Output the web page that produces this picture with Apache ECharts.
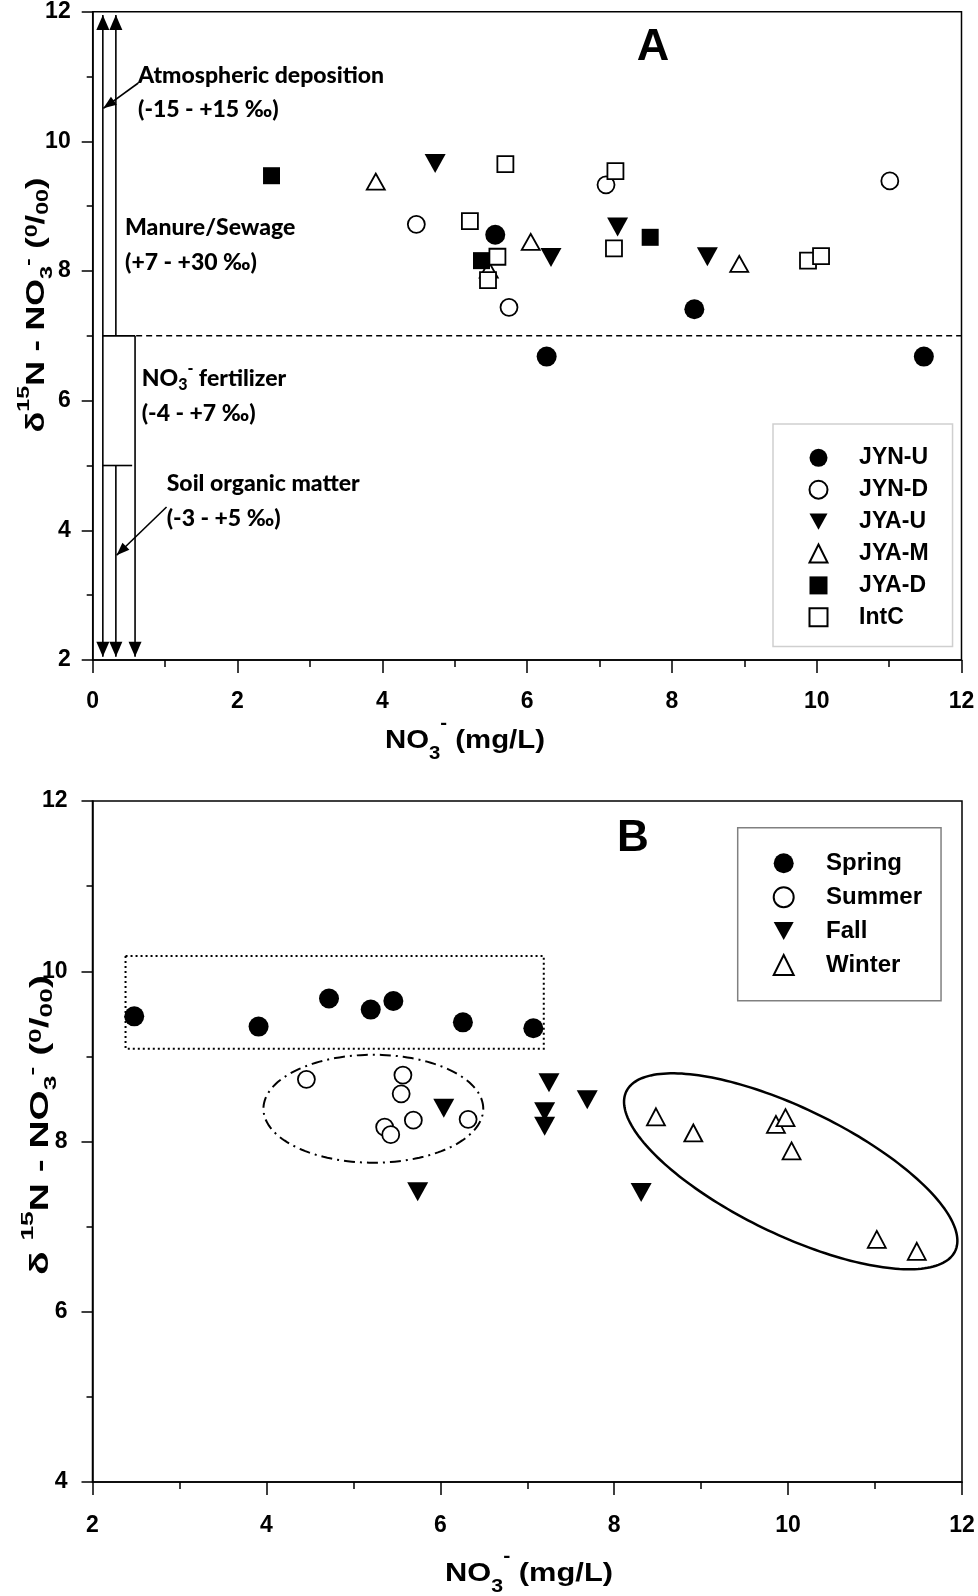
<!DOCTYPE html>
<html><head><meta charset="utf-8">
<script src="https://cdn.jsdelivr.net/npm/echarts@6.0.0/dist/echarts.min.js"></script>
<style>html,body{margin:0;padding:0;background:#fff}#c{width:978px;height:1596px}</style>
</head><body><div id="c"></div>
<script>
// ===================== DATA =====================
// Panel A: sites
const siteNames = ['JYN-U', 'JYN-D', 'JYA-U', 'JYA-M', 'JYA-D', 'IntC'];
const jynU = [[5.56, 8.56], [8.31, 7.41], [6.27, 6.68], [11.48, 6.68]];
const jynD = [[4.47, 8.72], [7.09, 9.33], [11.01, 9.39], [5.75, 7.44]];
const jyaU = [[4.73, 9.66], [6.33, 8.21], [7.25, 8.68], [8.49, 8.22]];
const jyaM = [[3.91, 9.38], [6.05, 8.45], [8.93, 8.11], [5.47, 8.02]];
const jyaD = [[2.47, 9.47], [5.37, 8.16], [7.70, 8.52]];
const intC = [[5.21, 8.77], [5.46, 7.86], [5.59, 8.22], [5.70, 9.65], [7.22, 9.54], [7.20, 8.35], [9.88, 8.16], [10.06, 8.23]];

// Panel B: seasons
const seasonNames = ['Spring', 'Summer', 'Fall', 'Winter'];
const spring = [[2.48, 9.47], [3.91, 9.35], [4.72, 9.68], [5.20, 9.55], [5.46, 9.65], [6.26, 9.40], [7.07, 9.33]];
const summer = [[4.46, 8.73], [5.57, 8.78], [5.55, 8.56], [5.69, 8.25], [5.36, 8.17], [5.43, 8.08], [6.32, 8.26]];
const fall   = [[6.04, 8.39], [5.74, 7.41], [7.25, 8.69], [7.20, 8.35], [7.20, 8.18], [7.69, 8.49], [8.31, 7.40]];
const winter = [[8.48, 8.29], [8.91, 8.10], [9.86, 8.20], [9.97, 8.28], [10.04, 7.89], [11.02, 6.85], [11.48, 6.71]];

// Tick labels
const xTicksA = [0, 2, 4, 6, 8, 10, 12];
const yTicksA = [2, 4, 6, 8, 10, 12];
const xTicksB = [2, 4, 6, 8, 10, 12];
const yTicksB = [4, 6, 8, 10, 12];

// Source ranges annotation (panel A), in data units
const sourceNames = ['Atmospheric deposition', 'Manure/Sewage', 'fertilizer', 'Soil organic matter'];
const sourceRanges = ['(-15 - +15 \u2030)', '(+7 - +30 \u2030)', '(-4 - +7 \u2030)', '(-3 - +5 \u2030)'];
// [x, yStart, yEnd, arrowAtStart, arrowAtEnd]
const sourceBars = [[0.14, 2.05, 11.95, 1, 1], [0.32, 7, 11.95, 0, 1], [0.585, 7, 2.05, 0, 1], [0.32, 5, 2.05, 0, 1]];
const sourceCaps = [[0.14, 0.585, 7], [0.14, 0.545, 5]];
const pointerArrows = [[[0.63, 10.90], [0.147, 10.51]], [[1.02, 4.36], [0.33, 3.615]]];
const thresholdLine = [[0.6, 7], [12, 7]];

// Panel B grouping shapes, in data units
const springBox = [[2.38, 9.09], [7.19, 10.18]];
const summerEllipse = { center: [5.23, 8.385], major: [6.494, 8.385], minor: [5.23, 9.019] };
const winterEllipse = { center: [10.03, 7.65], major: [11.92, 6.71], minor: [9.71, 6.986] };

// ===================== STYLE / LAYOUT =====================
const FN = '"Liberation Sans", Arial, Helvetica, sans-serif';
const FL = 'Lato, "Open Sans", "Noto Sans", sans-serif';
const DOWN_TRI = 'path://M0,0L20,0L10,18Z';

const mctx = document.createElement('canvas').getContext('2d');
function richWidth(str, rich) {
  let w = 0; const re = /\{(\w+)\|([^}]*)\}/g; let m;
  while ((m = re.exec(str))) { mctx.font = rich[m[1]].font; w += mctx.measureText(m[2]).width; }
  return w;
}

function seg(p1, p2, extra) {
  return { type: 'line', shape: { x1: p1[0], y1: p1[1], x2: p2[0], y2: p2[1] },
    style: Object.assign({ stroke: '#000', fill: null, lineWidth: 1.6 }, extra || {}) };
}
function head(tip, from, w, L) {
  const dx = tip[0] - from[0], dy = tip[1] - from[1];
  const len = Math.hypot(dx, dy), ux = dx / len, uy = dy / len;
  const bx = tip[0] - ux * L, by = tip[1] - uy * L, nx = -uy, ny = ux;
  return { type: 'polygon', shape: { points: [tip, [bx + nx * w / 2, by + ny * w / 2], [bx - nx * w / 2, by - ny * w / 2]] },
    style: { fill: '#000', stroke: null } };
}
function ellipsePts(api, e, n) {
  const c = api.coord(e.center), p = api.coord(e.major), q = api.coord(e.minor), pts = [];
  for (let i = 0; i < n; i++) {
    const t = 2 * Math.PI * i / n, ct = Math.cos(t), st = Math.sin(t);
    pts.push([c[0] + ct * (p[0] - c[0]) + st * (q[0] - c[0]), c[1] + ct * (p[1] - c[1]) + st * (q[1] - c[1])]);
  }
  return pts;
}

function renderSourcesA(params, api) {
  const ch = [];
  sourceBars.forEach(b => {
    const p1 = api.coord([b[0], b[1]]), p2 = api.coord([b[0], b[2]]);
    ch.push(seg(p1, p2));
    if (b[3]) ch.push(head(p1, p2, 13, 15));
    if (b[4]) ch.push(head(p2, p1, 13, 15));
  });
  sourceCaps.forEach(c => ch.push(seg(api.coord([c[0], c[2]]), api.coord([c[1], c[2]]))));
  pointerArrows.forEach(a => {
    const t = api.coord(a[0]), h = api.coord(a[1]);
    ch.push(seg(t, h)); ch.push(head(h, t, 10, 13));
  });
  ch.push(seg(api.coord(thresholdLine[0]), api.coord(thresholdLine[1]), { lineWidth: 1.5, lineDash: [6, 4] }));
  return { type: 'group', children: ch };
}
function renderGroupsB(params, api) {
  const a = api.coord(springBox[0]), b = api.coord(springBox[1]);
  return { type: 'group', children: [
    { type: 'rect', shape: { x: Math.min(a[0], b[0]), y: Math.min(a[1], b[1]), width: Math.abs(b[0] - a[0]), height: Math.abs(b[1] - a[1]) },
      style: { fill: null, stroke: '#000', lineWidth: 2, lineDash: [2, 3] } },
    { type: 'polygon', shape: { points: ellipsePts(api, summerEllipse, 160) },
      style: { fill: null, stroke: '#000', lineWidth: 2, lineDash: [11, 5, 2, 5] } },
    { type: 'polygon', shape: { points: ellipsePts(api, winterEllipse, 200) },
      style: { fill: null, stroke: '#000', lineWidth: 2.5 } }
  ] };
}

function scatter(name, data, symbol, size, filled, gi) {
  return { name, type: 'scatter', xAxisIndex: gi, yAxisIndex: gi, data, symbol, symbolSize: size, z: 2,
    itemStyle: filled ? { color: '#000', borderWidth: 0, opacity: 1 } : { color: '#fff', borderColor: '#000', borderWidth: 1.8, opacity: 1 },
    emphasis: { disabled: true } };
}

function xAxis(gi, ticks, margin) {
  return { gridIndex: gi, type: 'value', min: ticks[0], max: ticks[ticks.length - 1], interval: ticks[1] - ticks[0],
    axisLine: { show: true, onZero: false, lineStyle: { color: '#000', width: 1.5 } },
    axisTick: { show: true, inside: false, length: 13, lineStyle: { color: '#000', width: 1.5 } },
    minorTick: { show: true, splitNumber: 2, length: 7, lineStyle: { color: '#000', width: 1.5 } },
    splitLine: { show: false }, minorSplitLine: { show: false },
    axisLabel: { margin, fontFamily: FN, fontWeight: 'bold', fontSize: 23, color: '#000', showMinLabel: true, showMaxLabel: true, hideOverlap: false } };
}
function yAxis(gi, ticks, margin) {
  return { gridIndex: gi, type: 'value', min: ticks[0], max: ticks[ticks.length - 1], interval: ticks[1] - ticks[0],
    axisLine: { show: true, onZero: false, lineStyle: { color: '#000', width: 1.5 } },
    axisTick: { show: true, inside: false, length: 11, lineStyle: { color: '#000', width: 1.5 } },
    minorTick: { show: true, splitNumber: 2, length: 6, lineStyle: { color: '#000', width: 1.5 } },
    splitLine: { show: false }, minorSplitLine: { show: false },
    axisLabel: { margin, fontFamily: FN, fontWeight: 'bold', fontSize: 23, color: '#000', showMinLabel: true, showMaxLabel: true, hideOverlap: false } };
}

// rich-text tokens: shift up (sup) / down (sub) via padding around a middle-aligned token
function up(font, px) { return { font, fill: '#000', padding: [0, 0, 2 * px, 0] }; }
function dn(font, px) { return { font, fill: '#000', padding: [2 * px, 0, 0, 0] }; }

const richX = {
  m: { font: 'bold 26px ' + FN, fill: '#000' },
  sb: dn('bold 18px ' + FN, 13),
  sp: up('bold 18px ' + FN, 17)
};
const xTitle = '{m|NO}{sb|3}{sp|-}{m| (mg/L)}';
const richY = {
  m: { font: 'bold 25px ' + FN, fill: '#000' },
  sp: up('bold 17px ' + FN, 13),
  sb: dn('bold 17px ' + FN, 10),
  sp2: up('bold 17px ' + FN, 9),
  s0: up('bold 17px ' + FN, 5),
  b0: dn('bold 17px ' + FN, 6)
};
const yTitleA = '{m|\u03b4}{sp|15}{m|N - NO}{sb|3}{sp2|-}{m| (}{s0|0}{m|/}{b0|00}{m|)}';
const yTitleB = '{m|\u03b4 }{sp|15}{m|N - NO}{sb|3}{sp2|-}{m| (}{s0|0}{m|/}{b0|00}{m|)}';

function titleText(str, rich, x, y, targetW, rot) {
  const w = richWidth(str, rich);
  return { type: 'text', x, y, rotation: rot || 0, scaleX: targetW / w, z: 10,
    style: { text: str, rich, align: 'center', verticalAlign: 'middle', textAlign: 'center', textVerticalAlign: 'middle', fill: '#000' } };
}
const ANN_FONT = '900 23px ' + FL;
function annText(str, x, y) {
  return { type: 'text', x, y, z: 10,
    style: { text: str, font: ANN_FONT, fill: '#000', align: 'left', verticalAlign: 'middle', textAlign: 'left', textVerticalAlign: 'middle' } };
}
const richAnn = {
  t: { font: ANN_FONT, fill: '#000' },
  sb: dn('900 16px ' + FL, 6),
  sp: up('900 16px ' + FL, 10)
};

const graphics = [
  { type: 'text', x: 653, y: 48, z: 10, style: { text: 'A', font: 'bold 45px ' + FN, fill: '#000', align: 'center', verticalAlign: 'middle', textAlign: 'center', textVerticalAlign: 'middle' } },
  { type: 'text', x: 633, y: 839, z: 10, style: { text: 'B', font: 'bold 44px ' + FN, fill: '#000', align: 'center', verticalAlign: 'middle', textAlign: 'center', textVerticalAlign: 'middle' } },
  titleText(xTitle, richX, 465, 741, 160, 0),
  titleText(xTitle, richX, 529, 1574, 168, 0),
  titleText(yTitleA, richY, 37, 305, 255, Math.PI / 2),
  titleText(yTitleB, richY, 41, 1125, 300, Math.PI / 2),
  annText(sourceNames[0], 138, 76),
  annText(sourceRanges[0], 138, 110),
  annText(sourceNames[1], 125, 228),
  annText(sourceRanges[1], 125, 263),
  { type: 'text', x: 141.7, y: 379, z: 10, style: { text: '{t|NO}{sb|3}{sp|-}{t| ' + sourceNames[2] + '}', rich: richAnn, align: 'left', verticalAlign: 'middle', textAlign: 'left', textVerticalAlign: 'middle' } },
  annText(sourceRanges[2], 141.7, 414),
  annText(sourceNames[3], 166.7, 484),
  annText(sourceRanges[3], 166.7, 519)
];

const chart = echarts.init(document.getElementById('c'), null, { renderer: 'canvas' });
chart.setOption({
  animation: false,
  backgroundColor: '#fff',
  grid: [
    { left: 92.7, top: 11.7, width: 868.8, height: 648.3, show: true, borderColor: '#000', borderWidth: 1.5, backgroundColor: 'transparent', containLabel: false, outerBoundsMode: 'none' },
    { left: 92.5, top: 801, width: 869.5, height: 681, show: true, borderColor: '#000', borderWidth: 1.5, backgroundColor: 'transparent', containLabel: false, outerBoundsMode: 'none' }
  ],
  xAxis: [xAxis(0, xTicksA, 30), xAxis(1, xTicksB, 32)],
  yAxis: [yAxis(0, yTicksA, 22), yAxis(1, yTicksB, 25)],
  legend: [
    { data: siteNames, orient: 'vertical', left: 773, top: 424, itemWidth: 18, itemHeight: 18, itemGap: 8.9,
      padding: [22.3, 24, 17.7, 35.5], borderColor: '#cfcfcf', borderWidth: 1.5, borderRadius: 0, backgroundColor: '#fff',
      selectedMode: false,
      textStyle: { fontFamily: FN, fontWeight: 'bold', fontSize: 23, color: '#000', padding: [0, 0, 0, 26.6] } },
    { data: seasonNames, orient: 'vertical', left: 737.7, top: 827.7, itemWidth: 20, itemHeight: 20, itemGap: 9.9,
      padding: [23.6, 19, 23.7, 35], borderColor: '#808080', borderWidth: 1.5, borderRadius: 0, backgroundColor: '#fff',
      selectedMode: false,
      textStyle: { fontFamily: FN, fontWeight: 'bold', fontSize: 24, color: '#000', padding: [0, 0, 0, 27.3] } }
  ],
  series: [
    { type: 'custom', xAxisIndex: 0, yAxisIndex: 0, data: [[6, 7]], renderItem: renderSourcesA, silent: true, clip: false, z: 3 },
    scatter('JYN-U', jynU, 'circle', 20, true, 0),
    scatter('JYN-D', jynD, 'circle', 17, false, 0),
    scatter('JYA-U', jyaU, DOWN_TRI, [21, 19], true, 0),
    scatter('JYA-M', jyaM, 'triangle', [18, 16], false, 0),
    scatter('JYA-D', jyaD, 'rect', 17, true, 0),
    scatter('IntC', intC, 'rect', 16, false, 0),
    { type: 'custom', xAxisIndex: 1, yAxisIndex: 1, data: [[7, 8]], renderItem: renderGroupsB, silent: true, clip: false, z: 3 },
    scatter('Spring', spring, 'circle', 20, true, 1),
    scatter('Summer', summer, 'circle', 17, false, 1),
    scatter('Fall', fall, DOWN_TRI, [21, 19], true, 1),
    scatter('Winter', winter, 'triangle', [18, 17], false, 1)
  ],
  graphic: graphics
});
</script></body></html>
